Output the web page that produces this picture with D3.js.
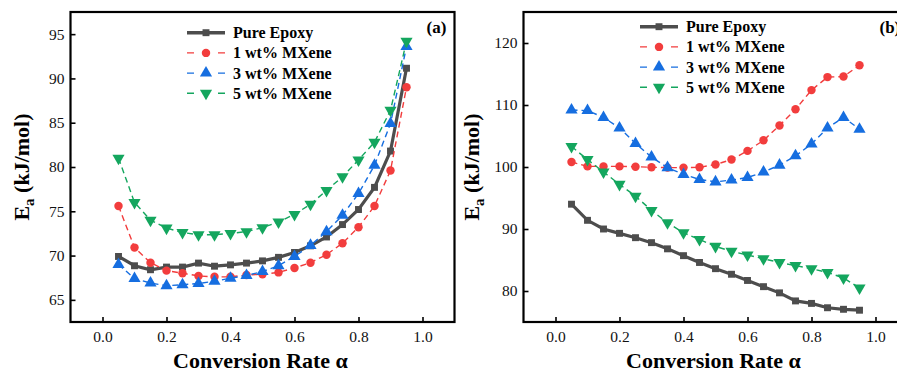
<!DOCTYPE html>
<html>
<head>
    <title>Ea vs conversion rate</title>
    <script src="https://cdn.jsdelivr.net/npm/d3@7"></script>
    <style>
        body { margin: 0; background: #fff; }
        svg { display: block; }
        text { font-family: "Times New Roman", "Liberation Serif", serif; }
    </style>
</head>
<body>
    <svg id="chart" width="897" height="372"></svg>

    <script>

// conversion rate, shared by both panels
var alpha = [0.05, 0.10, 0.15, 0.20, 0.25, 0.30, 0.35, 0.40, 0.45, 0.50,
             0.55, 0.60, 0.65, 0.70, 0.75, 0.80, 0.85, 0.90, 0.95];

var seriesNames = ['Pure Epoxy', '1 wt% MXene', '3 wt% MXene', '5 wt% MXene'];

// panel (a)
var pureA = [69.9, 68.85, 68.4, 68.7, 68.7, 69.15, 68.8, 68.95, 69.15, 69.4,
             69.8, 70.35, 71.1, 72.1, 73.5, 75.2, 77.7, 81.8, 91.15];
var wt1A  = [75.6, 70.9, 69.2, 68.3, 68.0, 67.7, 67.6, 67.6, 67.8, 67.9,
             68.1, 68.6, 69.2, 70.1, 71.4, 73.2, 75.6, 79.6, 89.0];
var wt3A  = [69.0, 67.4, 66.9, 66.6, 66.7, 66.85, 67.1, 67.45, 67.75, 68.2,
             68.85, 69.9, 71.15, 72.7, 74.55, 77.0, 80.2, 84.9, 93.6];
var wt5A  = [81.0, 76.0, 74.0, 73.1, 72.6, 72.35, 72.35, 72.5, 72.7, 73.15,
             73.8, 74.65, 75.8, 77.35, 78.9, 80.8, 82.8, 86.4, 94.2];

// panel (b)
var pureB = [94.0, 91.4, 90.0, 89.3, 88.6, 87.8, 86.8, 85.7, 84.6, 83.6,
             82.7, 81.7, 80.7, 79.7, 78.4, 78.0, 77.3, 77.05, 76.9];
var wt1B  = [100.8, 100.1, 100.1, 100.1, 100.05, 99.95, 99.9, 99.9, 99.95, 100.4,
             101.2, 102.6, 104.3, 106.7, 109.3, 112.4, 114.5, 114.6, 116.4];
var wt3B  = [109.2, 109.1, 108.0, 106.3, 103.8, 101.6, 99.9, 98.8, 98.0, 97.6,
             97.9, 98.3, 99.2, 100.3, 101.8, 103.7, 106.3, 108.0, 106.1];
var wt5B  = [103.3, 101.2, 99.2, 97.2, 95.3, 93.0, 91.0, 89.4, 88.3, 87.2,
             86.4, 85.8, 85.2, 84.6, 84.1, 83.6, 83.0, 82.1, 80.5];

var xTicks  = [0.0, 0.2, 0.4, 0.6, 0.8, 1.0];
var yTicksA = [65, 70, 75, 80, 85, 90, 95];
var yTicksB = [80, 90, 100, 110, 120];

var colors  = ['#4d4d4d', '#f23d3d', '#166ee0', '#14a65e'];
var symbols = [d3.symbolSquare, d3.symbolCircle, d3.symbolTriangle, d3.symbolTriangle];
var symSize = [48, 56, 64, 64];

var svg = d3.select('#chart');

function drawPanel(opt) {
    var left = opt.left, top = 12, width = 384, height = 310;

    var g = svg.append('g').attr('transform', 'translate(' + left + ',' + top + ')');

    var x = d3.scaleLinear().domain([-0.1, 1.1]).range([0, width]);
    var y = d3.scaleLinear().domain(opt.yDomain).range([height, 0]);

    // axes, ticks pointing in
    var xAxis = g.append('g')
        .attr('transform', 'translate(0,' + height + ')')
        .call(d3.axisBottom(x).tickValues(xTicks).tickFormat(d3.format('.1f'))
              .tickSizeInner(-5).tickSizeOuter(0).tickPadding(9));
    var yAxis = g.append('g')
        .call(d3.axisLeft(y).tickValues(opt.yTicks)
              .tickSizeInner(-5).tickSizeOuter(0).tickPadding(6));

    [xAxis, yAxis].forEach(function (a) {
        a.select('.domain').remove();
        a.selectAll('line').attr('stroke', '#000').attr('stroke-width', 1.6);
        a.selectAll('text').attr('font-size', 15.5).attr('fill', '#111')
            .style('font-family', '"Times New Roman", "Liberation Serif", serif');
    });

    var line = d3.line()
        .x(function (d, i) { return x(alpha[i]); })
        .y(function (d) { return y(d); });

    opt.series.forEach(function (vals, s) {
        g.append('path')
            .datum(vals)
            .attr('d', line)
            .attr('fill', 'none')
            .attr('stroke', colors[s])
            .attr('stroke-width', s === 0 ? 3.2 : 1.4)
            .attr('stroke-dasharray', s === 0 ? null : '6,4');

        g.selectAll('.m' + s)
            .data(vals)
            .enter().append('path')
            .attr('class', 'm' + s)
            .attr('d', d3.symbol().type(symbols[s]).size(symSize[s]))
            .attr('transform', function (d, i) {
                return 'translate(' + x(alpha[i]) + ',' + y(d) + ')' + (s === 3 ? ' rotate(180)' : '');
            })
            .attr('fill', colors[s]);
    });

    // frame
    g.append('rect')
        .attr('width', width).attr('height', height)
        .attr('fill', 'none').attr('stroke', '#000').attr('stroke-width', 2.2);

    // legend
    var leg = g.append('g').attr('transform', 'translate(116.5,' + opt.legendTop + ')');
    seriesNames.forEach(function (name, s) {
        var row = leg.append('g').attr('transform', 'translate(0,' + (s * 20.2) + ')');
        row.append('line')
            .attr('x1', 0).attr('x2', 38).attr('y1', 0).attr('y2', 0)
            .attr('stroke', colors[s])
            .attr('stroke-width', s === 0 ? 3.6 : 1.4)
            .attr('stroke-dasharray', s === 0 ? null : '7,24,7');
        row.append('path')
            .attr('d', d3.symbol().type(symbols[s]).size(symSize[s]))
            .attr('transform', 'translate(19,0)' + (s === 3 ? ' rotate(180)' : ''))
            .attr('fill', colors[s]);
        row.append('text')
            .attr('x', 46).attr('y', 5.5)
            .attr('font-size', 16).attr('font-weight', 'bold')
            .text(name);
    });

    g.append('text')
        .attr('x', 356).attr('y', 21)
        .attr('font-size', 17).attr('font-weight', 'bold')
        .text(opt.label);

    // axis titles
    svg.append('text')
        .attr('x', left + 190).attr('y', 368)
        .attr('text-anchor', 'middle')
        .attr('font-size', 22).attr('font-weight', 'bold')
        .text('Conversion Rate \u03b1');

    var yt = svg.append('text')
        .attr('transform', 'translate(' + opt.titleX + ',' + (top + height / 2) + ') rotate(-90)')
        .attr('text-anchor', 'middle')
        .attr('font-size', 22).attr('font-weight', 'bold');
    yt.append('tspan').text('E');
    yt.append('tspan').attr('font-size', 15).attr('dy', 5).text('a');
    yt.append('tspan').attr('dy', -5).text(' (kJ/mol)');
}

drawPanel({
    left: 70.5, yDomain: [62.5, 97.5], yTicks: yTicksA,
    series: [pureA, wt1A, wt3A, wt5A], legendTop: 20.7, label: '(a)', titleX: 29
});

drawPanel({
    left: 523.5, yDomain: [75, 125], yTicks: yTicksB,
    series: [pureB, wt1B, wt3B, wt5B], legendTop: 14.7, label: '(b)', titleX: 479
});

    </script>
</body>
</html>
